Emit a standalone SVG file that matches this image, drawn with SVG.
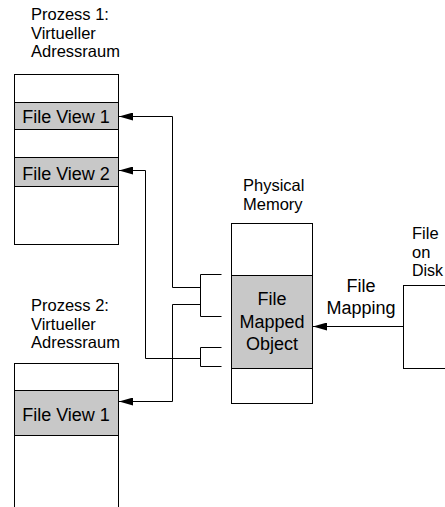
<svg xmlns="http://www.w3.org/2000/svg" width="445" height="507" viewBox="0 0 445 507">
  <style>
    .box { fill: #ffffff; stroke: #000000; stroke-width: 1; }
    .view { fill: #c8c8c8; stroke: #000000; stroke-width: 1; }
    .lbl { font-family: "Liberation Sans", Arial, sans-serif; font-size: 16.5px; fill: #000000; }
    .big { font-family: "Liberation Sans", Arial, sans-serif; font-size: 18px; fill: #000000; }
    .mid { text-anchor: middle; }
    .conn { fill: none; stroke: #000000; stroke-width: 1; }
  </style>
  <defs>
    <marker id="arrow" viewBox="0 0 14 8" refX="14" refY="4" markerWidth="14" markerHeight="8" markerUnits="userSpaceOnUse" orient="auto">
      <path d="M0,0 L14,4 L0,8 z" fill="#000000"/>
    </marker>
  </defs>

  <g id="prozess1">
    <text class="lbl" x="31" y="20">Prozess 1:</text>
    <text class="lbl" x="31" y="38.5">Virtueller</text>
    <text class="lbl" x="31" y="57">Adressraum</text>
    <rect class="box" x="14.5" y="74.5" width="104" height="170"/>
    <g id="p1-view1">
      <rect class="view" x="14.5" y="102.5" width="104" height="27"/>
      <text class="big mid" x="66" y="122.5">File View 1</text>
    </g>
    <g id="p1-view2">
      <rect class="view" x="14.5" y="157.5" width="104" height="29"/>
      <text class="big mid" x="66" y="179.5">File View 2</text>
    </g>
  </g>

  <g id="prozess2">
    <text class="lbl" x="31" y="311">Prozess 2:</text>
    <text class="lbl" x="31" y="329.5">Virtueller</text>
    <text class="lbl" x="31" y="348">Adressraum</text>
    <rect class="box" x="14.5" y="363.5" width="104" height="160"/>
    <g id="p2-view1">
      <rect class="view" x="14.5" y="390.5" width="104" height="45"/>
      <text class="big mid" x="66" y="420.5">File View 1</text>
    </g>
  </g>

  <g id="physical-memory">
    <text class="lbl" x="243" y="191">Physical</text>
    <text class="lbl" x="243" y="209.5">Memory</text>
    <rect class="box" x="231.5" y="223.5" width="81" height="180"/>
    <g id="file-mapped-object">
      <rect class="view" x="231.5" y="275.5" width="81" height="93"/>
      <text class="big mid" x="272" y="305">File</text>
      <text class="big mid" x="272" y="327.5">Mapped</text>
      <text class="big mid" x="272" y="350">Object</text>
    </g>
  </g>

  <g id="file-on-disk">
    <text class="lbl" x="412" y="239" font-size="16">File</text>
    <text class="lbl" x="412" y="257.5" font-size="16">on</text>
    <text class="lbl" x="412" y="276" style="font-size:16px">Disk</text>
    <rect class="box" x="403.5" y="285.5" width="60" height="83"/>
  </g>

  <g id="connectors">
    <path class="conn" d="M221.5,274.5 H200.5 V316.5 H221.5"/>
    <path class="conn" d="M200.5,287.5 H172.5 V116.5 H119" marker-end="url(#arrow)"/>
    <path class="conn" d="M200.5,304.5 H172.5 V401.5 H119" marker-end="url(#arrow)"/>
    <path class="conn" d="M221.5,347.5 H200.5 V366.5 H221.5"/>
    <path class="conn" d="M200.5,358.5 H145.5 V170.5 H119" marker-end="url(#arrow)"/>
    <path class="conn" d="M403.5,326.5 H313" marker-end="url(#arrow)"/>
    <text class="big mid" x="361" y="291.5">File</text>
    <text class="big mid" x="361" y="314">Mapping</text>
  </g>
</svg>
